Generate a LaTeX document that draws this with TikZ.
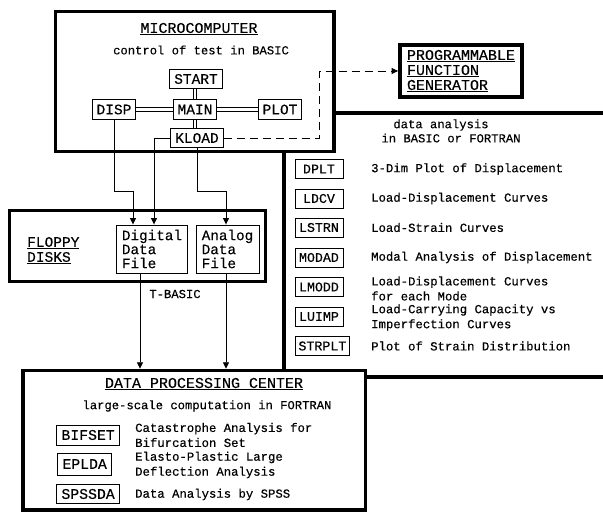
\documentclass[tikz,border=0pt]{standalone}
\usepackage{fontspec}
\newfontfamily\tw[FakeBold=0.35]{Liberation Mono}
\newfontfamily\tws[FakeBold=0.2]{Liberation Mono}
\usetikzlibrary{arrows.meta}
\newcommand\fntA{\tw\fontsize{14.5}{15}\selectfont}
\newcommand\fntB{\tw\fontsize{12.3}{15}\selectfont}
\newcommand\fntC{\tw\fontsize{13.3}{15}\selectfont}
\newcommand\fntD{\tw\fontsize{14.3}{14}\selectfont}
\newcommand\fntE{\tw\fontsize{14.8}{15}\selectfont}
\newcommand\fntT{\tw\fontsize{15}{15}\selectfont}
\newcommand\fntS{\tws\fontsize{12.2}{15}\selectfont}
\begin{document}
\begin{tikzpicture}[x=1pt,y=-1pt,
  cont/.style={draw, line width=3.5pt, inner sep=0pt},
  heavy/.style={line width=3.5pt},
  mbox/.style={draw, line width=0.9pt, font=\fntA, inner xsep=4.5pt, inner ysep=0pt, minimum height=19.5pt},
  rbox/.style={draw, line width=0.9pt, font=\fntC, anchor=west, inner xsep=3.5pt, inner ysep=0pt, minimum width=48pt, minimum height=19pt},
  dbox/.style={draw, line width=0.9pt, font=\fntE, anchor=west, inner xsep=5pt, inner ysep=0pt, minimum height=20pt},
  fbox/.style={draw, line width=0.9pt, font=\fntD, align=left, inner sep=0pt, minimum height=48pt},
  desc/.style={anchor=west, inner sep=0pt, font=\fntB, align=left},
  lab/.style={inner sep=0pt},
  pair/.style={line width=0.9pt},
  arr/.style={line width=0.9pt, -{Triangle[length=6.5pt,width=6pt]}},
  dashline/.style={line width=1pt, dash pattern=on 8pt off 5pt, -{Triangle[length=6.5pt,width=6pt]}}
]
\useasboundingbox (0,0) rectangle (603,512);
\fill[white] (0,0) rectangle (603,512);

% microcomputer
\node[cont, minimum width=278.5pt, minimum height=140pt] (micro) at (194.75,81.5) {};
\node[lab, font=\fntT] (microtitle) at (199,29) {\underline{MICROCOMPUTER}};
\node[lab, font=\fntS] (microsub) at (201,50) {control of test in BASIC};
\node[mbox] (start) at (196,79) {START};
\node[mbox] (main) at (195,109.5) {MAIN};
\node[mbox] (disp) at (114,109.5) {DISP};
\node[mbox] (plot) at (280,109.5) {PLOT};
\node[mbox] (kload) at (197,138) {KLOAD};
\draw[pair] ([xshift=-1.6pt]main.north) -- ([xshift=-1.6pt]main.north |- start.south);
\draw[pair] ([xshift=1.6pt]main.north) -- ([xshift=1.6pt]main.north |- start.south);
\draw[pair] ([xshift=-1.6pt]main.south) -- ([xshift=-1.6pt]main.south |- kload.north);
\draw[pair] ([xshift=1.6pt]main.south) -- ([xshift=1.6pt]main.south |- kload.north);
\draw[pair] ([yshift=-1.6pt]disp.east) -- ([yshift=-1.6pt]disp.east -| main.west);
\draw[pair] ([yshift=1.6pt]disp.east) -- ([yshift=1.6pt]disp.east -| main.west);
\draw[pair] ([yshift=-1.6pt]main.east) -- ([yshift=-1.6pt]main.east -| plot.west);
\draw[pair] ([yshift=1.6pt]main.east) -- ([yshift=1.6pt]main.east -| plot.west);

% programmable function generator
\node[cont, line width=3.8pt, minimum width=122pt, minimum height=52pt, align=left, font=\fntT] (pfg) at (461,71)
  {\underline{PROGRAMMABLE}\\\underline{FUNCTION}\\\underline{GENERATOR}};
\draw[dashline] (kload.east) -- ++(96,0) |- (pfg.west);

% data analysis region
\draw[heavy] (334,113) -- (603,113);
\draw[heavy] (284,151.5) -- (284,370.5);
\draw[heavy] (365.5,377) -- (603,377);
\node[lab, font=\fntS] (da1) at (441,125) {data analysis};
\node[lab, font=\fntS] (da2) at (451,138) {in BASIC or FORTRAN};

\node[rbox] (dplt) at (294.5,169) {DPLT};
\node[desc] (dpltd) at (371,169) {3-Dim Plot of Displacement};
\node[rbox] (ldcv) at (294.5,198.5) {LDCV};
\node[desc] (ldcvd) at (371,198.5) {Load-Displacement Curves};
\node[rbox] (lstrn) at (294.5,227.5) {LSTRN};
\node[desc] (lstrnd) at (371,227.5) {Load-Strain Curves};
\node[rbox] (modad) at (294.5,257.5) {MODAD};
\node[desc] (modadd) at (371,257.5) {Modal Analysis of Displacement};
\node[rbox] (lmodd) at (294.5,287) {LMODD};
\node[desc] (lmoddd) at (371,288.5) {Load-Displacement Curves\\for each Mode};
\node[rbox] (luimp) at (294.5,316.5) {LUIMP};
\node[desc] (luimpd) at (371,317.5) {Load-Carrying Capacity vs\\Imperfection Curves};
\node[rbox] (strplt) at (294.5,346) {STRPLT};
\node[desc] (strpltd) at (371,346) {Plot of Strain Distribution};

% floppy disks
\node[cont, minimum width=256pt, minimum height=71pt] (floppy) at (137.5,246) {};
\node[lab, font=\fntA, align=left, anchor=west] (floppyt) at (27,250.5) {\underline{FLOPPY}\\\underline{DISKS}};
\node[fbox, minimum width=71pt] (digital) at (152,249) {Digital\\Data\\File};
\node[fbox, minimum width=63pt] (analog) at (227.5,249) {Analog\\Data\\File};
\coordinate (jd) at (133,191);
\draw[arr] (disp.south) -- (disp.south |- jd) -| ([xshift=-19pt]digital.north);
\draw[arr] (kload.west) -| ([xshift=2pt]digital.north);
\draw[arr] (kload.south) -- (kload.south |- jd) -| ([xshift=-1.5pt]analog.north);
\node[lab, font=\fntS] (tbasic) at (175,294) {T-BASIC};

% data processing center
\node[cont, minimum width=342.5pt, minimum height=139.5pt] (dpc) at (194.25,440.25) {};
\draw[arr] ([xshift=-12pt]digital.south) -- ([xshift=-12pt]digital.south |- dpc.north);
\draw[arr] ([xshift=-1.5pt]analog.south) -- ([xshift=-1.5pt]analog.south |- dpc.north);
\node[lab, font=\fntT] (dpct) at (204,384) {\underline{DATA PROCESSING CENTER}};
\node[lab, font=\fntS] (dpcs) at (207,406) {large-scale computation in FORTRAN};
\node[dbox] (bifset) at (56,435) {BIFSET};
\node[desc] (bifsetd) at (135,435) {Catastrophe Analysis for\\Bifurcation Set};
\node[dbox, minimum height=22pt] (eplda) at (57,464) {EPLDA};
\node[desc] (epldad) at (135,465) {Elasto-Plastic Large\\Deflection Analysis};
\node[dbox, minimum height=19pt] (spssda) at (56,494) {SPSSDA};
\node[desc] (spssdad) at (135,494.5) {Data Analysis by SPSS};
\end{tikzpicture}
\end{document}
